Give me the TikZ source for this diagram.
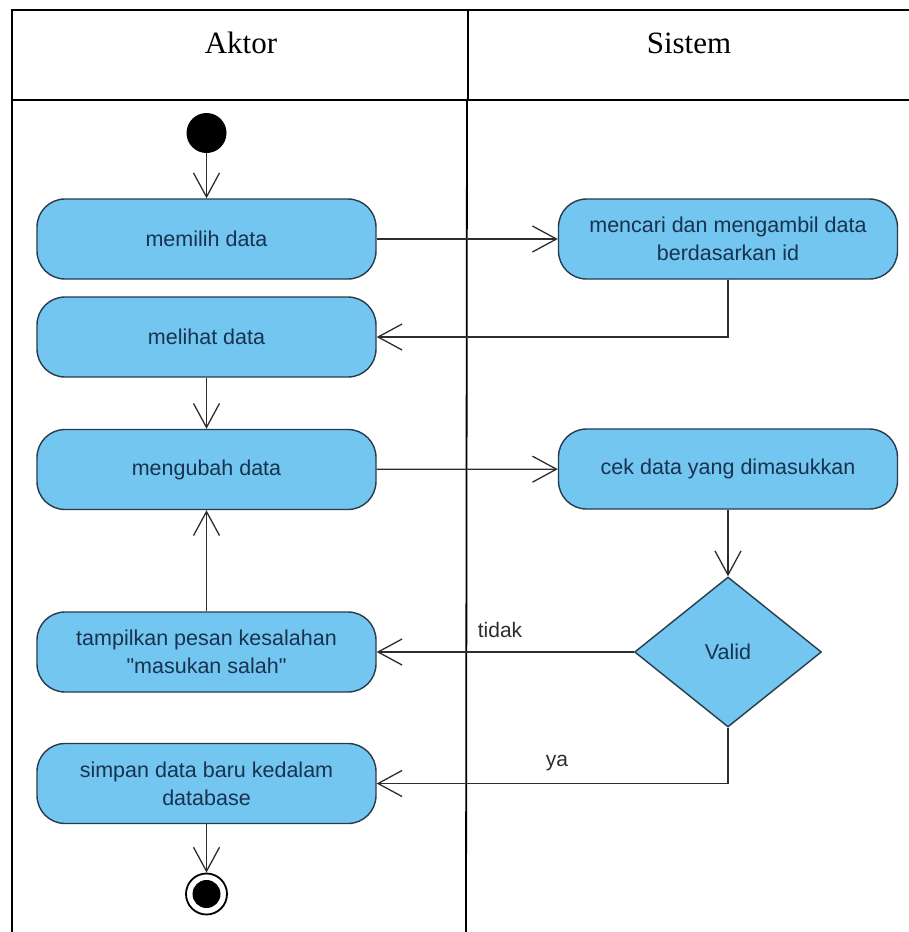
\documentclass[tikz,border=0pt]{standalone}
\usepackage{fontspec}
\setmainfont{Liberation Serif}
\newfontfamily\boxfont{Liberation Sans}
\usetikzlibrary{arrows.meta,shapes.geometric}

\definecolor{actfill}{RGB}{114,198,239}
\definecolor{actline}{RGB}{40,58,75}
\definecolor{acttext}{RGB}{24,50,80}
\definecolor{flowline}{RGB}{45,45,45}

\tikzset{
  act/.style={draw=actline, fill=actfill, line width=1.4pt, rounded corners=28pt,
    minimum width=339pt, minimum height=80pt, inner sep=0pt,
    font=\boxfont\fontsize{21.5}{28}\selectfont, text=acttext, align=center},
  decision/.style={diamond, draw=actline, fill=actfill, line width=1.4pt,
    minimum width=187pt, minimum height=150pt, inner sep=0pt,
    font=\boxfont\fontsize{21.5}{28}\selectfont, text=acttext},
  flow/.style={draw=flowline, line width=1.3pt,
    -{Straight Barb[length=24pt,width=26pt,line width=1.3pt]}},
  guard/.style={font=\boxfont\fontsize{21}{24}\selectfont, text=flowline},
  lane/.style={font=\fontsize{31}{36}\selectfont},
  frame/.style={line width=2pt, draw=black},
}

\begin{document}
\begin{tikzpicture}[x=1pt,y=-1pt]
  \useasboundingbox (0,0) rectangle (909,932);

  % swimlane frame
  \draw[frame] (909,10) -- (12,10) -- (12,932);
  \draw[frame] (12,100) -- (909,100);
  \draw[frame] (468,10) -- (468,100);
  \draw[line width=1.8pt] (467,100) -- (466,932);
  \node[lane] (laneA) at (241,43) {Aktor};
  \node[lane] (laneS) at (689,43) {Sistem};

  % initial and final states
  \node[circle, fill=black, minimum size=40pt, inner sep=0pt] (start) at (206.5,133) {};
  \node[circle, draw=black, fill=white, line width=1.8pt, minimum size=41pt, inner sep=0pt] (end) at (206.5,894) {};
  \fill (end.center) circle (14pt);

  % actions
  \node[act] (pilih) at (206.5,239) {memilih data};
  \node[act] (lihat) at (206.5,337) {melihat data};
  \node[act] (ubah) at (206.5,469.5) {mengubah data};
  \node[act] (salah) at (206.5,652) {tampilkan pesan kesalahan\\"masukan salah"};
  \node[act] (simpan) at (206.5,783.5) {simpan data baru kedalam\\database};
  \node[act] (cari) at (728,239) {mencari dan mengambil data\\berdasarkan id};
  \node[act] (cek) at (728,469) {cek data yang dimasukkan};
  \node[decision] (valid) at (728,652) {Valid};

  % control flow
  \draw[flow] (start) -- (pilih);
  \draw[flow] (pilih) -- (cari);
  \draw[flow] (cari.south) |- (lihat.east);
  \draw[flow] (lihat) -- (ubah);
  \draw[flow] (ubah) -- (cek);
  \draw[flow] (cek) -- (valid);
  \draw[flow] (valid.west) -- (salah.east);
  \draw[flow] (valid.south) |- (simpan.east);
  \draw[flow] (salah) -- (ubah);
  \draw[flow] (simpan) -- (end);

  % guards
  \node[guard] (gtidak) at (500,630) {tidak};
  \node[guard] (gya) at (557,763) {ya};
\end{tikzpicture}
\end{document}
